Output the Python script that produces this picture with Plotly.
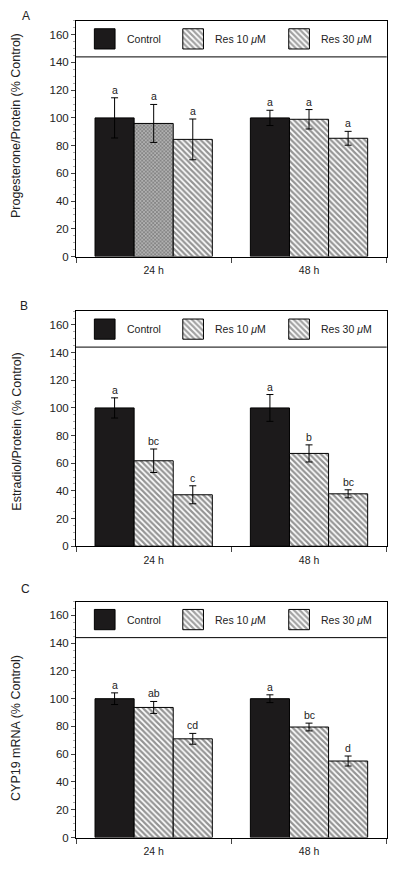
import plotly.graph_objects as go

# ---------------- data ----------------
times = ["24 h", "48 h"]
series_names = ["Control", "Res 10 <i>μ</i>M", "Res 30 <i>μ</i>M"]

# Panel A: Progesterone/Protein (% Control)
a_ctrl = [100, 100]
a_ctrl_err = [14.5, 5.5]
a_res10 = [96, 99]
a_res10_err = [13.7, 7.0]
a_res30 = [84.5, 85.3]
a_res30_err = [14.7, 5.0]
a_letters = [["a", "a"], ["a", "a"], ["a", "a"]]

# Panel B: Estradiol/Protein (% Control)
b_ctrl = [100, 100]
b_ctrl_err = [7.3, 9.7]
b_res10 = [61.8, 67.1]
b_res10_err = [8.5, 6.2]
b_res30 = [37.2, 37.9]
b_res30_err = [6.5, 2.9]
b_letters = [["a", "a"], ["bc", "b"], ["c", "bc"]]

# Panel C: CYP19 mRNA (% Control)
c_ctrl = [100, 100]
c_ctrl_err = [4.2, 2.8]
c_res10 = [93.7, 79.6]
c_res10_err = [4.3, 2.8]
c_res30 = [71.1, 55.1]
c_res30_err = [3.9, 3.6]
c_letters = [["a", "a"], ["ab", "bc"], ["cd", "d"]]

panel_tags = ["A", "B", "C"]
y_titles = ["Progesterone/Protein (% Control)", "Estradiol/Protein (% Control)", "CYP19 mRNA (% Control)"]
y_ticks = [0, 20, 40, 60, 80, 100, 120, 140, 160]

panels = [
    ([a_ctrl, a_res10, a_res30], [a_ctrl_err, a_res10_err, a_res30_err], a_letters),
    ([b_ctrl, b_res10, b_res30], [b_ctrl_err, b_res10_err, b_res30_err], b_letters),
    ([c_ctrl, c_res10, c_res30], [c_ctrl_err, c_res10_err, c_res30_err], c_letters),
]

# ---------------- layout / styles ----------------
W, H = 400, 873
FONT = "Liberation Sans, Arial, Helvetica, sans-serif"
TXT = "#222222"
DARK = "#1c1a1b"
HATCH = "#2a2a2a"

# pixel geometry of each panel (top of box, y=0 line)
panel_px = [(21.0, 258.3), (313.3, 550.0), (605.7, 843.3)]
x_left, x_right = 76.0, 386.7
title_center_px = [126.2, 435.0, 733.3]
tag_px = [(26, 16), (23.5, 308), (25, 593)]
bargap = 0.245
bar_w = (1 - bargap) / 3
legend_line_val = 144
ymax = 170


def py(p):
    return 1 - p / H


def px(p):
    return p / W


hatch = dict(shape="\\", fgcolor=HATCH, bgcolor="white", size=4.0, solidity=0.55)
cross = dict(shape="x", fgcolor="#4a4a4a", bgcolor="#b0b0b0", size=2.6, solidity=0.5)

fig = go.Figure()
annotations = []
shapes = []
layout = dict(
    width=W, height=H,
    margin=dict(l=0, r=0, t=0, b=0),
    paper_bgcolor="white", plot_bgcolor="white",
    barmode="group", bargap=bargap, bargroupgap=0,
    showlegend=False,
    font=dict(family=FONT, color=TXT, size=11),
)

for i, (vals, errs, letters) in enumerate(panels):
    n = i + 1
    xa = "x" if n == 1 else f"x{n}"
    ya = "y" if n == 1 else f"y{n}"
    lx = f"x{n + 3}"
    top, zero = panel_px[i]
    ydom = [py(zero), py(top)]
    xdom = [px(x_left), px(x_right)]

    for k in range(3):
        if k == 0:
            marker = dict(color=DARK, line=dict(color="black", width=1))
        else:
            if i == 0 and k == 1:
                pat = dict(shape=[cross["shape"], hatch["shape"]],
                           fgcolor=[cross["fgcolor"], HATCH],
                           bgcolor=[cross["bgcolor"], "white"],
                           size=[cross["size"], hatch["size"]],
                           solidity=[cross["solidity"], hatch["solidity"]])
            else:
                pat = hatch
            marker = dict(color="white", line=dict(color="black", width=1), pattern=pat)
        fig.add_trace(go.Bar(
            x=times, y=vals[k], xaxis=xa, yaxis=ya, marker=marker,
            error_y=dict(type="data", array=errs[k], visible=True,
                         color="black", thickness=1, width=3.5),
            hoverinfo="skip",
        ))
        for j in range(2):
            annotations.append(dict(
                x=j + (k - 1) * bar_w, y=vals[k][j] + errs[k][j],
                xref=xa, yref=ya, text=letters[k][j], showarrow=False,
                xanchor="center", yanchor="bottom", yshift=0,
                font=dict(size=10.5, color=TXT, family=FONT),
            ))

    # legend swatches on an overlay axis (fraction of the plot width)
    sw_x = [0.0924, 0.377, 0.718]
    txt_x = [0.158, 0.442, 0.783]
    fig.add_trace(go.Bar(
        x=sw_x, y=[14.6] * 3, base=[149.7] * 3, width=[0.0666] * 3,
        xaxis=lx, yaxis=ya,
        marker=dict(color=[DARK, "white", "white"], line=dict(color="black", width=1),
                    pattern=dict(shape=["", "\\", "\\"], fgcolor=HATCH, bgcolor="white",
                                 size=hatch["size"], solidity=hatch["solidity"])),
        hoverinfo="skip",
    ))
    for k in range(3):
        annotations.append(dict(
            x=txt_x[k], y=157, xref=lx, yref=ya, text=series_names[k], showarrow=False,
            xanchor="left", yanchor="middle", font=dict(size=10.5, color=TXT, family=FONT),
        ))

    shapes.append(dict(type="line", xref=f"{xa} domain", yref=ya, x0=0, x1=1,
                       y0=legend_line_val, y1=legend_line_val, line=dict(color="black", width=1)))

    layout[f"xaxis{n if n > 1 else ''}"] = dict(
        domain=xdom, anchor=ya, type="category", categoryorder="array", categoryarray=times,
        tickson="boundaries", ticks="outside", ticklen=5, tickwidth=1, tickcolor="#444",
        ticklabelstandoff=4,
        showline=True, linecolor="black", linewidth=1, mirror=True,
        showgrid=False, zeroline=False, tickfont=dict(size=10.5, color=TXT),
        fixedrange=True,
    )
    layout[f"yaxis{n if n > 1 else ''}"] = dict(
        domain=ydom, anchor=xa, range=[0, ymax], tickvals=y_ticks,
        ticks="outside", ticklen=4, tickwidth=1, tickcolor="#444",
        minor=dict(dtick=5, ticks="outside", ticklen=2, tickcolor="#aaaaaa", tickwidth=1),
        showline=True, linecolor="black", linewidth=1, mirror=True,
        showgrid=False, zeroline=False, tickfont=dict(size=11.5, color=TXT),
        fixedrange=True,
    )
    layout[f"xaxis{n + 3}"] = dict(
        domain=xdom, anchor=ya, overlaying=xa, range=[0, 1], visible=False, fixedrange=True,
    )

    annotations.append(dict(
        x=px(16.7), y=py(title_center_px[i]), xref="paper", yref="paper",
        text=y_titles[i], textangle=-90, showarrow=False, xanchor="center", yanchor="middle",
        font=dict(size=12.5, color=TXT, family=FONT),
    ))
    annotations.append(dict(
        x=px(tag_px[i][0]), y=py(tag_px[i][1]), xref="paper", yref="paper",
        text=panel_tags[i], showarrow=False, xanchor="center", yanchor="middle",
        font=dict(size=12, color=TXT, family=FONT),
    ))

layout["annotations"] = annotations
layout["shapes"] = shapes
fig.update_layout(**layout)
fig.write_html(
    "out.html",
    config={"displayModeBar": False},
    post_script="document.body.style.margin='0';document.body.style.overflow='hidden';",
)
